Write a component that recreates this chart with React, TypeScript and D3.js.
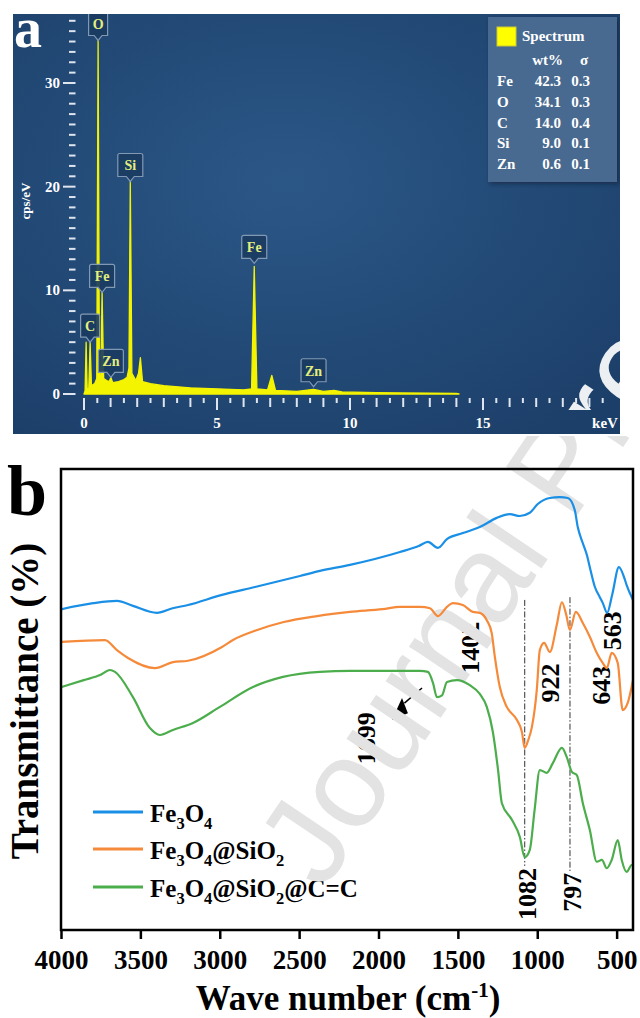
import React from 'react';
import * as d3 from 'd3';

// ---------------- Panel a : EDS spectrum ----------------
const edsKeV = [0.0, 0.04, 0.08, 0.12, 0.18, 0.23, 0.28, 0.4, 0.48, 0.53, 0.58, 0.63, 0.68, 0.74, 0.85, 0.95, 1.01, 1.08, 1.3, 1.5, 1.62, 1.69, 1.74, 1.8, 1.95, 2.05, 2.12, 2.2, 2.5, 3.0, 4.0, 5.0, 6.0, 6.3, 6.4, 6.5, 6.9, 7.06, 7.2, 8.0, 8.63, 9.0, 9.4, 9.7, 11.0, 13.0, 14.0, 14.1];
const edsCps = [0.0, 0.3, 5.0, 0.4, 0.6, 5.0, 0.8, 1.0, 1.5, 34.1, 1.8, 1.6, 9.8, 1.5, 1.3, 1.2, 1.6, 1.1, 1.2, 1.4, 1.6, 2.5, 20.5, 2.0, 1.3, 2.0, 3.5, 1.2, 1.0, 0.8, 0.6, 0.5, 0.4, 0.5, 12.3, 0.5, 0.4, 1.8, 0.35, 0.25, 0.45, 0.25, 0.35, 0.2, 0.12, 0.08, 0.05, 0.0];
const edsYTickLabels = [0, 10, 20, 30];
const edsXTickLabels = [0, 5, 10, 15];
const edsXUnit = 'keV';
const edsYTitle = 'cps/eV';
const peakNames = ['O', 'Si', 'Fe', 'Fe', 'C', 'Zn', 'Zn'];
const peakKeV = [0.53, 1.74, 0.68, 6.4, 0.23, 1.01, 8.63];
const peakTip = [34.1, 20.5, 9.8, 12.6, 5.0, 1.6, 0.7];
const compElements = ['Fe', 'O', 'C', 'Si', 'Zn'];
const compWt = ['42.3', '34.1', '14.0', '9.0', '0.6'];
const compSigma = ['0.3', '0.3', '0.4', '0.1', '0.1'];

// ---------------- Panel b : FTIR ----------------
const ftirXTicks = [4000, 3500, 3000, 2500, 2000, 1500, 1000, 500];
const wnBlue = [4000, 3800, 3650, 3550, 3399, 3300, 3203, 2989, 2781, 2498, 2372, 2183, 1868, 1750, 1692, 1629, 1572, 1472, 1365, 1258, 1176, 1113, 1050, 1000, 924, 861, 810, 767, 748, 716, 690, 672, 640, 609, 590, 563, 530, 489, 455, 440, 400];
const tBlue = [69.6, 70.9, 71.4, 70.3, 68.8, 69.8, 70.5, 72.7, 74.4, 76.8, 77.9, 79.2, 82.0, 83.3, 84.2, 82.9, 84.8, 86.1, 87.4, 89.4, 90.2, 89.8, 90.5, 92.4, 93.7, 93.9, 93.7, 91.1, 87.4, 83.9, 81.3, 78.7, 74.4, 72.2, 70.9, 68.8, 72.9, 78.7, 76.4, 74.8, 71.6];
const wnOrange = [4000, 3726, 3651, 3581, 3411, 3298, 3203, 2989, 2920, 2781, 2600, 2390, 2183, 1976, 1868, 1742, 1679, 1629, 1572, 1535, 1472, 1409, 1365, 1321, 1290, 1270, 1239, 1195, 1132, 1100, 1082, 1060, 1037, 1006, 987, 960, 924, 880, 848, 820, 798, 760, 716, 672, 628, 590, 565, 534, 496, 465, 434, 400];
const tOrange = [62.5, 62.9, 60.7, 59.0, 56.8, 58.1, 58.4, 61.4, 62.9, 64.9, 66.8, 68.1, 69.0, 69.6, 70.1, 70.1, 69.8, 68.1, 70.1, 70.9, 70.5, 69.0, 68.8, 67.2, 64.4, 59.2, 52.7, 48.4, 45.6, 43.0, 39.5, 41.2, 44.0, 52.1, 60.7, 62.3, 60.3, 66.2, 71.1, 68.3, 65.1, 69.0, 66.6, 63.6, 60.1, 57.9, 56.8, 60.1, 57.9, 47.7, 49.2, 54.2];
const wnGreen = [4000, 3860, 3757, 3695, 3663, 3550, 3443, 3380, 3298, 3172, 3002, 2794, 2605, 2372, 2183, 1868, 1742, 1692, 1660, 1635, 1603, 1572, 1509, 1428, 1365, 1321, 1283, 1250, 1226, 1163, 1113, 1082, 1050, 1020, 987, 943, 905, 848, 817, 785, 754, 716, 672, 628, 596, 565, 534, 496, 471, 440, 408, 400];
const tGreen = [52.7, 54.2, 55.3, 56.4, 56.0, 50.5, 43.8, 42.3, 43.4, 44.9, 48.4, 52.7, 54.9, 56.0, 56.2, 56.2, 56.2, 56.0, 53.6, 50.5, 50.9, 53.8, 54.2, 53.1, 51.2, 48.4, 43.0, 34.7, 27.5, 23.9, 20.2, 15.8, 17.4, 26.0, 34.7, 34.1, 36.2, 39.5, 37.5, 34.3, 33.6, 27.5, 21.7, 14.8, 15.2, 13.4, 15.2, 19.5, 15.2, 12.6, 14.1, 14.1];
const seriesNames = ['Fe3O4', 'Fe3O4@SiO2', 'Fe3O4@SiO2@C=C'];
const seriesColors = ['#1a8fe6', '#f58a3a', '#4cad4c'];
const bandLabels = ['1082', '797', '922', '643', '563', '1402', '1699'];

const SERIF = '"Liberation Serif", "Times New Roman", Times, serif';

function Chem({ s, size }: { s: string; size: number }) {
  const parts: React.ReactNode[] = [];
  let sub = false;
  const chars = s.split('');
  chars.forEach((c, i) => {
    const prev = i > 0 ? chars[i - 1] : '';
    const isSub = /[0-9]/.test(c) && /[A-Za-z]/.test(prev);
    if (isSub && !sub) {
      parts.push(<tspan key={i} dy={size * 0.28} fontSize={size * 0.66}>{c}</tspan>);
      sub = true;
    } else if (!isSub && sub) {
      parts.push(<tspan key={i} dy={-size * 0.28}>{c}</tspan>);
      sub = false;
    } else {
      parts.push(<tspan key={i}>{c}</tspan>);
    }
  });
  return <>{parts}</>;
}

export default function App() {
  // ----- panel a scales
  const xA = d3.scaleLinear().domain([0, 20]).range([84, 616]);
  const yA = d3.scaleLinear().domain([0, 30]).range([394, 83]);
  const edsPts = d3.zip(edsKeV, edsCps) as [number, number][];
  const edsArea = d3.area<[number, number]>().x(d => xA(d[0])).y0(yA(0)).y1(d => yA(d[1]));
  const xMinor = d3.range(0, 19.51, 0.5);
  const yMinor = d3.range(0, 37, 1);

  // ----- panel b scales
  const xB = d3.scaleLinear().domain([4000, 400]).range([61.5, 633]);
  const yB = d3.scaleLinear().domain([0, 100]).range([930, 469]);
  const lineB = d3.line<[number, number]>().x(d => xB(d[0])).y(d => yB(d[1])).curve(d3.curveMonotoneX);
  const series = [
    d3.zip(wnBlue, tBlue) as [number, number][],
    d3.zip(wnOrange, tOrange) as [number, number][],
    d3.zip(wnGreen, tGreen) as [number, number][],
  ];

  // label placement (center in data coords)
  const bandPos: [number, number][] = [[1068, 7.8], [784, 8.2], [923, 53.6], [602, 53.1], [533, 64.9], [1427, 61.2], [2082, 41.6]];
  const bandFont = 26;

  const legendY = [812, 849, 887];

  const watermark = (fill: string, op: number) => (
    <text transform="translate(323,892) rotate(-56)" fontSize={125} fill={fill} opacity={op}
      fontFamily='"Liberation Sans", Arial, sans-serif'>Journal Pre-proof</text>
  );

  return (
    <div style={{ position: 'absolute', left: 0, top: 0 }}>
      <svg width={640} height={1018} viewBox="0 0 640 1018" style={{ display: 'block', background: '#fff' }}>
        <defs>
          <radialGradient id="bgA" cx="45%" cy="40%" r="75%">
            <stop offset="0%" stopColor="#2b5787" />
            <stop offset="100%" stopColor="#1c3f69" />
          </radialGradient>
          <clipPath id="clipA"><rect x={13} y={14} width={607} height={420} /></clipPath>
          <clipPath id="clipAwm"><rect x={13} y={14} width={607} height={396} /></clipPath>
          <clipPath id="clipB"><rect x={0} y={436} width={640} height={582} /></clipPath>
          <clipPath id="plotB"><rect x={62} y={470} width={570} height={459} /></clipPath>
          <filter id="shadow" x="-10%" y="-10%" width="130%" height="130%">
            <feDropShadow dx="2" dy="2" stdDeviation="2" floodColor="#0d2036" floodOpacity="0.6" />
          </filter>
        </defs>

        {/* ================= Panel a ================= */}
        <rect x={13} y={14} width={607} height={420} fill="url(#bgA)" />
        <g clipPath="url(#clipAwm)">{watermark('#ffffff', 0.92)}</g>
        <g clipPath="url(#clipA)">
          {yMinor.map(v => (
            <line key={'yt' + v} x1={v % 10 === 0 ? 63 : 69} x2={75.5} y1={yA(v)} y2={yA(v)}
              stroke="#dfe5ee" strokeWidth={2} />
          ))}
          {edsYTickLabels.map(v => (
            <text key={'yl' + v} x={60} y={yA(v) + 5} textAnchor="end" fill="#ffffff" fontFamily={SERIF}
              fontWeight="bold" fontSize={15}>{v}</text>
          ))}
          {xMinor.map(v => {
            const major = Math.abs(v % 5) < 1e-6;
            const integer = Math.abs(v % 1) < 1e-6;
            const len = major ? 12 : integer ? 9 : 5;
            return <line key={'xt' + v} x1={xA(v)} x2={xA(v)} y1={398} y2={398 + len} stroke="#dfe5ee" strokeWidth={2} />;
          })}
          {edsXTickLabels.map(v => (
            <text key={'xl' + v} x={xA(v)} y={428} textAnchor="middle" fill="#ffffff" fontFamily={SERIF}
              fontWeight="bold" fontSize={15}>{v}</text>
          ))}
          <text x={605} y={428} textAnchor="middle" fill="#ffffff" fontFamily={SERIF} fontWeight="bold" fontSize={15}>{edsXUnit}</text>
          <text transform="translate(30,201) rotate(-90)" textAnchor="middle" fill="#ffffff" fontFamily={SERIF}
            fontWeight="bold" fontSize={13}>{edsYTitle}</text>

          <path d={edsArea(edsPts) || ''} fill="#f4f400" stroke="#f4f400" strokeWidth={1.3} strokeLinejoin="round" />

          {peakNames.map((n, i) => {
            const tx = xA(peakKeV[i]);
            const ty = yA(peakTip[i]);
            const w = n.length === 1 ? 19 : 25;
            const h = 23;
            const top = ty - 5 - h;
            const d = `M${tx - w / 2},${top + 2} Q${tx - w / 2},${top} ${tx - w / 2 + 2},${top} L${tx + w / 2 - 2},${top} Q${tx + w / 2},${top} ${tx + w / 2},${top + 2} L${tx + w / 2},${top + h} L${tx + 4},${top + h} L${tx},${ty} L${tx - 4},${top + h} L${tx - w / 2},${top + h} Z`;
            return (
              <g key={'pk' + i}>
                <path d={d} fill="#1b3b61" fillOpacity={0.9} stroke="#8299b4" strokeWidth={1.2} />
                <text x={tx} y={top + 17} textAnchor="middle" fill="#e4ee7e" fontFamily={SERIF} fontWeight="bold" fontSize={14}>{n}</text>
              </g>
            );
          })}

          <rect x={488} y={17} width={129} height={165} fill="#4a6b90" filter="url(#shadow)" />
          <rect x={497} y={27} width={19} height={19} fill="#ffff00" stroke="#c9c930" strokeWidth={1} />
          <text x={522} y={41} fill="#ffffff" fontFamily={SERIF} fontWeight="bold" fontSize={15}>Spectrum</text>
          <text x={563} y={65} textAnchor="end" fill="#ffffff" fontFamily={SERIF} fontWeight="bold" fontSize={15}>wt%</text>
          <text x={584} y={65} textAnchor="middle" fill="#ffffff" fontFamily={SERIF} fontWeight="bold" fontSize={15}>σ</text>
          {compElements.map((el, i) => (
            <g key={'c' + el}>
              <text x={497} y={86 + i * 20.8} fill="#ffffff" fontFamily={SERIF} fontWeight="bold" fontSize={15}>{el}</text>
              <text x={561} y={86 + i * 20.8} textAnchor="end" fill="#ffffff" fontFamily={SERIF} fontWeight="bold" fontSize={15}>{compWt[i]}</text>
              <text x={590} y={86 + i * 20.8} textAnchor="end" fill="#ffffff" fontFamily={SERIF} fontWeight="bold" fontSize={15}>{compSigma[i]}</text>
            </g>
          ))}
        </g>
        <text x={14} y={47} fill="#ffffff" fontFamily={SERIF} fontWeight="bold" fontSize={56}>a</text>

        {/* ================= Panel b ================= */}
        <text x={7} y={515} fill="#000" fontFamily={SERIF} fontWeight="bold" fontSize={72}>b</text>
        <text transform="translate(38,701) rotate(-90)" textAnchor="middle" fill="#000" fontFamily={SERIF}
          fontWeight="bold" fontSize={39}>Transmittance (%)</text>
        <text x={348} y={1010} textAnchor="middle" fill="#000" fontFamily={SERIF} fontWeight="bold" fontSize={35}>
          Wave number (cm<tspan dy={-13} fontSize={21}>-1</tspan><tspan dy={13}>)</tspan>
        </text>

        {ftirXTicks.map(v => (
          <g key={'bt' + v}>
            <line x1={xB(v)} x2={xB(v)} y1={930} y2={939} stroke="#000" strokeWidth={2.5} />
            <text x={xB(v)} y={969} textAnchor="middle" fill="#000" fontFamily={SERIF} fontWeight="bold" fontSize={27}>{v}</text>
          </g>
        ))}

        <line x1={xB(1082)} x2={xB(1082)} y1={yB(71.6)} y2={yB(13.9)} stroke="#333" strokeWidth={1} strokeDasharray="6,2,1.5,2" />
        <line x1={xB(797)} x2={xB(797)} y1={yB(72.2)} y2={yB(12.8)} stroke="#333" strokeWidth={1} strokeDasharray="6,2,1.5,2" />

        {bandLabels.map((t, i) => (
          <text key={'bl' + t} transform={`translate(${xB(bandPos[i][0])},${yB(bandPos[i][1])}) rotate(-90)`}
            textAnchor="middle" dy="0.35em" fill="#000" fontFamily={SERIF} fontWeight="bold" fontSize={bandFont}>{t}</text>
        ))}

        <line x1={xB(1729)} y1={yB(52.5)} x2={xB(1840)} y2={yB(49.2)} stroke="#000" strokeWidth={1.5} />
        <path d={`M${xB(1918)},${yB(45.6)} L${xB(1855)},${yB(50.3)} L${xB(1818)},${yB(47.0)} Z`} fill="#000" />

        {seriesNames.map((n, i) => (
          <text key={'lt' + i} x={150} y={legendY[i] + 10} fill="#000" fontFamily={SERIF} fontWeight="bold" fontSize={25}>
            <Chem s={n} size={25} />
          </text>
        ))}

        <g clipPath="url(#clipB)">{watermark('#e3e3e3', 1)}</g>

        {seriesNames.map((n, i) => (
          <line key={'ll' + i} x1={93} x2={143} y1={legendY[i]} y2={legendY[i]} stroke={seriesColors[i]} strokeWidth={3} />
        ))}

        <g clipPath="url(#plotB)">
          {series.map((s, i) => (
            <path key={'s' + i} d={lineB(s) || ''} fill="none" stroke={seriesColors[i]} strokeWidth={2.2} strokeLinejoin="round" />
          ))}
        </g>

        <rect x={61} y={469} width={572} height={461} fill="none" stroke="#000" strokeWidth={2.5} />
      </svg>
    </div>
  );
}
